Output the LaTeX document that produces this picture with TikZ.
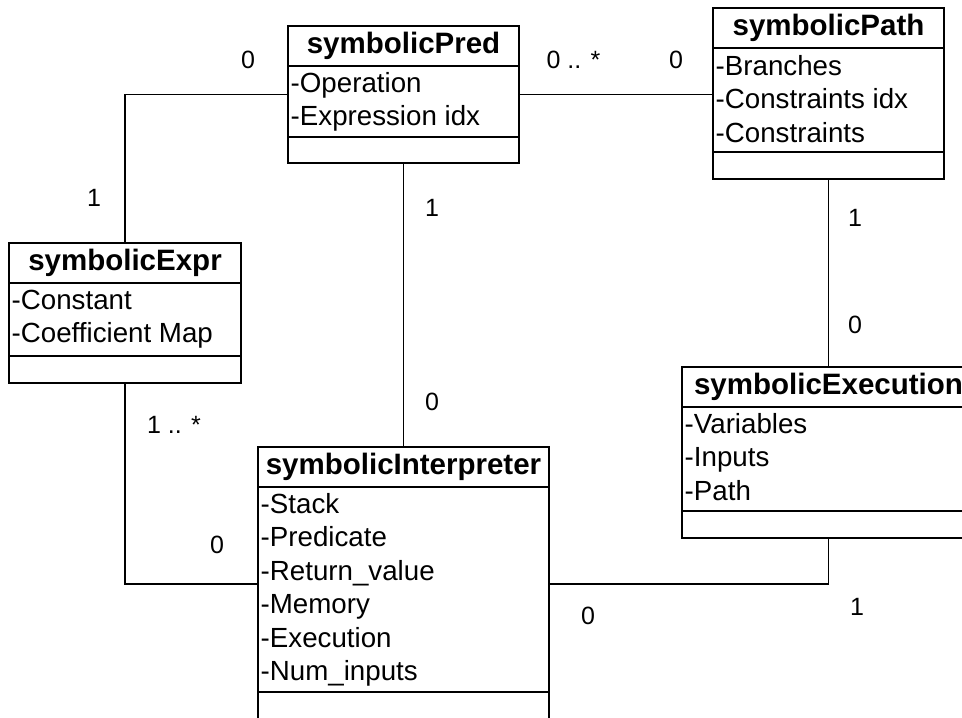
\documentclass[tikz,border=0pt]{standalone}
\usepackage{fontspec}
\setmainfont{Liberation Sans}

\tikzset{
  classbox/.style={draw, line width=1.6pt, inner sep=0pt, outer sep=0pt},
  classname/.style={draw, line width=1.6pt, inner sep=0pt, outer sep=0pt, anchor=north,
    minimum height=40pt, font=\bfseries\fontsize{29.5}{35}\selectfont},
  attrs/.style={draw, line width=1.6pt, inner sep=0pt, outer sep=0pt, anchor=north},
  attr/.style={anchor=base west, inner sep=2.5pt, font=\fontsize{27.7}{32}\selectfont},
  mult/.style={inner sep=0pt, font=\fontsize{25}{30}\selectfont},
  assoc/.style={line width=1.6pt}
}

\begin{document}
\begin{tikzpicture}[x=1pt, y=-1pt]
			\useasboundingbox (0,0) rectangle (962,718);
			\clip (0,0) rectangle (962,718);

			% Klasse symbolicPred
			\node[classbox, minimum width=231pt, minimum height=137pt] (pred) at (403.5,94.5) {};
			\node[classname, minimum width=231pt] (predname) at (pred.north) {symbolicPred};
			\node[attrs, minimum width=231pt, minimum height=71pt] (predattrs) at (predname.south) {};
			\foreach \t [count=\i] in {-Operation, -Expression idx}
				\node[attr] (pred-a\i) at (288, {92+33.5*(\i-1)}) {\t};

			% Klasse symbolicPath
			\node[classbox, minimum width=231pt, minimum height=171pt] (path) at (828.5,93.5) {};
			\node[classname, minimum width=231pt] (pathname) at (path.north) {symbolicPath};
			\node[attrs, minimum width=231pt, minimum height=104pt] (pathattrs) at (pathname.south) {};
			\foreach \t [count=\i] in {-Branches, -Constraints idx, -Constraints}
				\node[attr] (path-a\i) at (713, {75+33.5*(\i-1)}) {\t};

			% Klasse symbolicExpr
			\node[classbox, minimum width=232pt, minimum height=140pt] (expr) at (125,313) {};
			\node[classname, minimum width=232pt] (exprname) at (expr.north) {symbolicExpr};
			\node[attrs, minimum width=232pt, minimum height=73pt] (exprattrs) at (exprname.south) {};
			\foreach \t [count=\i] in {-Constant, -Coefficient Map}
				\node[attr] (expr-a\i) at (9, {309+33.5*(\i-1)}) {\t};

			% Klasse symbolicExecution
			\node[classbox, minimum width=293pt, minimum height=171pt] (exec) at (828.5,452.5) {};
			\node[classname, minimum width=293pt] (execname) at (exec.north) {symbolicExecution};
			\node[attrs, minimum width=293pt, minimum height=104pt] (execattrs) at (execname.south) {};
			\foreach \t [count=\i] in {-Variables, -Inputs, -Path}
				\node[attr] (exec-a\i) at (682, {433+33.5*(\i-1)}) {\t};

			% Klasse symbolicInterpreter
			\node[classbox, minimum width=291pt, minimum height=274pt] (interp) at (403.5,584) {};
			\node[classname, minimum width=291pt] (interpname) at (interp.north) {symbolicInterpreter};
			\node[attrs, minimum width=291pt, minimum height=205pt] (interpattrs) at (interpname.south) {};
			\foreach \t [count=\i] in {-Stack, -Predicate, -Return\_value, -Memory, -Execution, -Num\_inputs}
				\node[attr] (interp-a\i) at (258, {513+33.5*(\i-1)}) {\t};

			% Assoziationen
			\draw[assoc] (expr.north) |- (pred.west);
			\draw[assoc] (pred.east) -- (pred.east -| path.west);
			\draw[assoc] (pred.south) -- (interp.north);
			\draw[assoc] (path.south) -- (exec.north);
			\draw[assoc] (expr.south) |- (interp.west);
			\draw[assoc] (interp.east) -| (exec.south);

			% Multiplizitaeten
			\node[mult] (m-predexpr) at (248,60) {0};
			\node[mult] (m-exprpred) at (94,198) {1};
			\node[mult] (m-predpath) at (573.5,60) {0 .. *};
			\node[mult] (m-pathpred) at (676,60) {0};
			\node[mult] (m-predinterp) at (432,208) {1};
			\node[mult] (m-interppred) at (432,402) {0};
			\node[mult] (m-pathexec) at (855,218) {1};
			\node[mult] (m-execpath) at (855,325) {0};
			\node[mult] (m-exprinterp) at (174,425) {1 .. *};
			\node[mult] (m-interpexpr) at (217,545) {0};
			\node[mult] (m-interpexec) at (588,616) {0};
			\node[mult] (m-execinterp) at (857,607) {1};
		\end{tikzpicture}
\end{document}
